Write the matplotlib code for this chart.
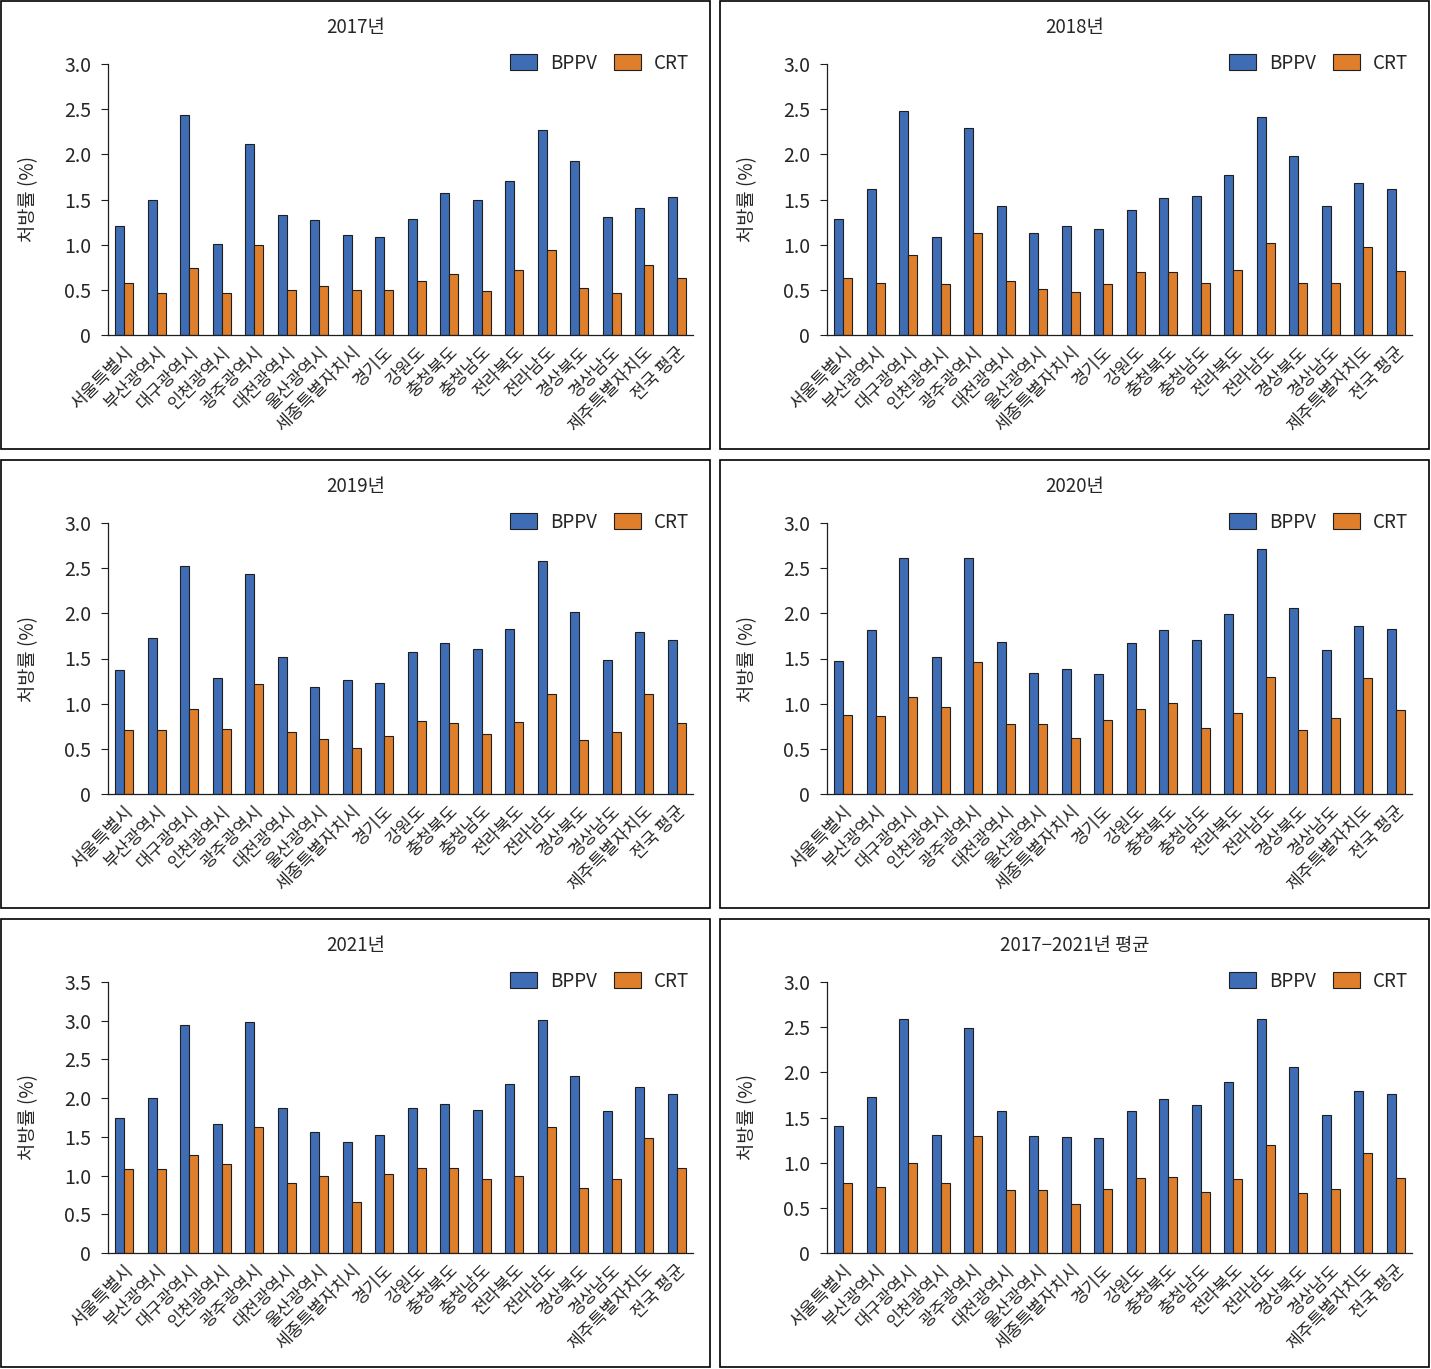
import numpy as np
import matplotlib.pyplot as plt
from matplotlib.patches import Rectangle, Patch

plt.rcParams['font.family'] = ['Noto Sans CJK KR', 'DejaVu Sans']

# 지역 (x축)
regions = ['서울특별시', '부산광역시', '대구광역시', '인천광역시', '광주광역시',
           '대전광역시', '울산광역시', '세종특별자치시', '경기도', '강원도',
           '충청북도', '충청남도', '전라북도', '전라남도', '경상북도',
           '경상남도', '제주특별자치도', '전국 평균']

# 처방률 (%)
bppv_2017 = [1.21, 1.49, 2.43, 1.01, 2.11, 1.33, 1.27, 1.11, 1.09, 1.28, 1.57, 1.50, 1.71, 2.27, 1.93, 1.31, 1.41, 1.53]
crt_2017 = [0.58, 0.46, 0.74, 0.47, 1.00, 0.50, 0.54, 0.50, 0.50, 0.60, 0.67, 0.49, 0.72, 0.94, 0.52, 0.47, 0.78, 0.63]

bppv_2018 = [1.28, 1.62, 2.48, 1.09, 2.29, 1.43, 1.13, 1.21, 1.17, 1.38, 1.52, 1.54, 1.77, 2.41, 1.98, 1.43, 1.68, 1.62]
crt_2018 = [0.63, 0.58, 0.89, 0.57, 1.13, 0.60, 0.51, 0.48, 0.57, 0.70, 0.70, 0.58, 0.72, 1.02, 0.58, 0.58, 0.97, 0.71]

bppv_2019 = [1.37, 1.73, 2.52, 1.28, 2.43, 1.52, 1.19, 1.26, 1.23, 1.57, 1.67, 1.61, 1.83, 2.58, 2.02, 1.48, 1.79, 1.71]
crt_2019 = [0.71, 0.71, 0.94, 0.72, 1.22, 0.69, 0.61, 0.51, 0.64, 0.81, 0.79, 0.66, 0.80, 1.11, 0.60, 0.69, 1.11, 0.79]

bppv_2020 = [1.47, 1.81, 2.61, 1.52, 2.61, 1.68, 1.34, 1.38, 1.33, 1.67, 1.81, 1.71, 1.99, 2.71, 2.06, 1.59, 1.86, 1.83]
crt_2020 = [0.87, 0.86, 1.07, 0.96, 1.46, 0.77, 0.78, 0.62, 0.82, 0.94, 1.01, 0.73, 0.90, 1.30, 0.71, 0.84, 1.28, 0.93]

bppv_2021 = [1.74, 2.00, 2.94, 1.67, 2.98, 1.87, 1.56, 1.44, 1.52, 1.87, 1.93, 1.85, 2.18, 3.01, 2.28, 1.83, 2.14, 2.05]
crt_2021 = [1.09, 1.08, 1.27, 1.15, 1.63, 0.91, 0.99, 0.66, 1.02, 1.10, 1.10, 0.95, 0.99, 1.63, 0.84, 0.96, 1.49, 1.10]

bppv_avg = [1.41, 1.73, 2.59, 1.31, 2.49, 1.57, 1.30, 1.28, 1.27, 1.57, 1.71, 1.64, 1.89, 2.59, 2.06, 1.53, 1.79, 1.76]
crt_avg = [0.77, 0.73, 1.00, 0.78, 1.29, 0.70, 0.70, 0.54, 0.71, 0.83, 0.84, 0.68, 0.82, 1.20, 0.66, 0.71, 1.11, 0.83]

titles = ['2017년', '2018년', '2019년', '2020년', '2021년', '2017\u22122021년 평균']
bppv_all = [bppv_2017, bppv_2018, bppv_2019, bppv_2020, bppv_2021, bppv_avg]
crt_all = [crt_2017, crt_2018, crt_2019, crt_2020, crt_2021, crt_avg]
ymax_all = [3.0, 3.0, 3.0, 3.0, 3.5, 3.0]

blue = '#3E6DB5'
orange = '#E07F2B'
edge = '#1f1f1f'
txt = '#262626'

W, H = 1431, 1369
fig = plt.figure(figsize=(W / 100, H / 100), dpi=100)

col_x0 = [0, 719]
row_y0 = [0, 459, 918]
x = np.arange(len(regions))
bw = 0.28

for k in range(6):
    r, c = k // 2, k % 2
    px, py = col_x0[c], row_y0[r]

    # 패널 테두리
    fig.patches.append(Rectangle(((px + 1) / W, 1 - (py + 449) / H), 709 / W, 448 / H,
                                 transform=fig.transFigure, fill=False,
                                 edgecolor='black', linewidth=1.2))

    left = (px + 108) / W
    width = 585 / W
    top = 1 - (py + 64) / H
    bottom = 1 - (py + 335) / H
    ax = fig.add_axes([left, bottom, width, top - bottom])

    ax.bar(x - bw / 2, bppv_all[k], bw, color=blue, edgecolor=edge, linewidth=0.8)
    ax.bar(x + bw / 2, crt_all[k], bw, color=orange, edgecolor=edge, linewidth=0.8)

    ymax = ymax_all[k]
    ax.set_ylim(0, ymax)
    ax.set_xlim(-0.5, len(regions) - 0.5)
    yt = np.arange(0, ymax + 0.01, 0.5)
    ax.set_yticks(yt)
    ax.set_yticklabels(['0'] + ['%.1f' % v for v in yt[1:]], fontsize=14, color=txt)
    ax.set_xticks(x)
    ax.set_xticklabels(regions, rotation=45, ha='right', rotation_mode='anchor',
                       fontsize=12.5, color=txt)
    ax.tick_params(axis='x', length=0, pad=6)
    ax.tick_params(axis='y', length=5, width=0.8, color=edge, pad=7)
    for s in ['top', 'right']:
        ax.spines[s].set_visible(False)
    for s in ['left', 'bottom']:
        ax.spines[s].set_color(edge)
        ax.spines[s].set_linewidth(0.9)

    ax.set_ylabel('처방률 (%)', fontsize=13.5, color=txt)
    ax.yaxis.set_label_coords(-0.118, 0.5)

    fig.text((px + 356) / W, 1 - (py + 27) / H, titles[k], ha='center', va='center',
             fontsize=13.5, color=txt)

    handles = [Patch(facecolor=blue, edgecolor=edge, linewidth=0.8),
               Patch(facecolor=orange, edgecolor=edge, linewidth=0.8)]
    ax.legend(handles, ['BPPV', 'CRT'], loc='upper right', bbox_to_anchor=(1.0, 1.055),
              ncol=2, frameon=False, fontsize=13.5, handlelength=1.45, handleheight=0.95,
              columnspacing=0.9, handletextpad=0.7, borderaxespad=0, borderpad=0.2,
              labelcolor=txt)

fig.savefig('out.png', dpi=100)
